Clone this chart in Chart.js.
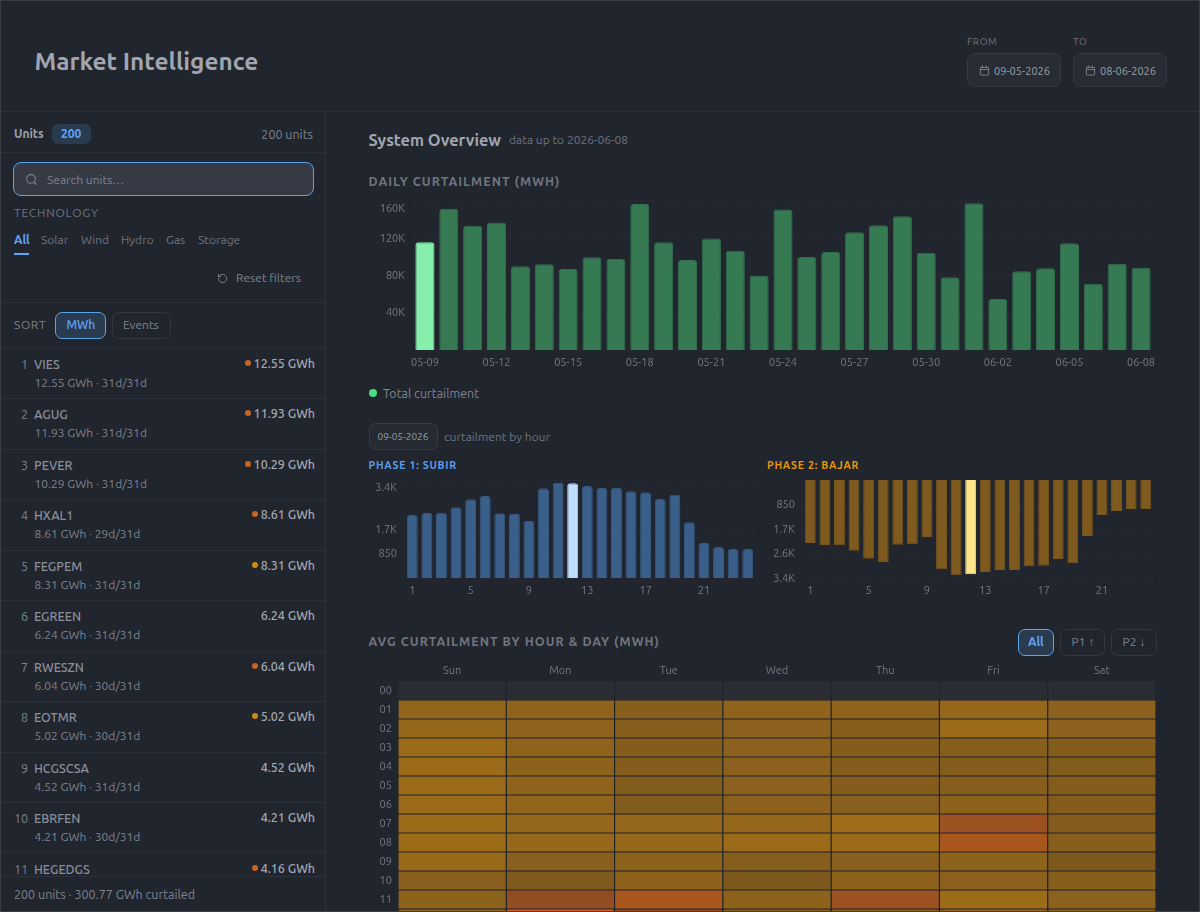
<!DOCTYPE html>
<html><head><meta charset="utf-8">
<script src="https://cdn.jsdelivr.net/npm/chart.js@4"></script>
<style>
*{box-sizing:border-box}
html,body{margin:0;padding:0;background:#21252e;width:1200px;height:912px;overflow:hidden;font-family:Ubuntu,"Noto Sans",sans-serif;color:#9ca3af}
#app{position:absolute;left:0;top:0;width:1200px;height:912px;overflow:hidden;border:1px solid #383c45}
.t{position:absolute;white-space:nowrap;line-height:1;transform:translateY(-50%)}
.r{transform:translate(-100%,-50%)}
.ln{position:absolute;background:#2c303a}
.box{position:absolute;border-radius:7px;border:1px solid #33373f}
canvas{position:absolute}
.wrap{position:absolute;overflow:hidden}
svg{position:absolute}
</style></head><body><div id="app"></div>
<script>
const days=['05-09','05-10','05-11','05-12','05-13','05-14','05-15','05-16','05-17','05-18','05-19','05-20','05-21','05-22','05-23','05-24','05-25','05-26','05-27','05-28','05-29','05-30','05-31','06-01','06-02','06-03','06-04','06-05','06-06','06-07','06-08'];
const dailyMWh=[115600,151800,133500,136800,89900,92000,87000,99500,97700,156800,115600,96700,119600,106700,79800,151000,99900,105300,126400,133900,143600,104500,78000,157500,54800,84500,87700,114600,71200,92700,88400];
const hourLabels=['1','2','3','4','5','6','7','8','9','10','11','12','13','14','15','16','17','18','19','20','21','22','23','24'];
const phase1=[2186,2255,2267,2452,2729,2845,2243,2232,1978,3111,3307,3284,3192,3122,3134,3007,2972,2741,2891,1931,1214,1075,1006,1006];
const phase2=[2186,2255,2267,2452,2729,2845,2243,2232,1978,3100,3307,3272,3192,3122,3122,2995,2972,2741,2891,1942,1214,1075,1006,1006];
const weekDays=['Sun','Mon','Tue','Wed','Thu','Fri','Sat'];
const heatHours=['00','01','02','03','04','05','06','07','08','09','10','11','12'];
const heat00=[0,0,0,0,0,0,0];
const heat01=[2650,2600,2400,2600,2600,2750,2500];
const heat02=[2750,2600,2400,2500,2400,2900,2500];
const heat03=[2900,2600,2350,2500,2350,2400,2350];
const heat04=[2900,2550,2350,2500,2350,2350,2300];
const heat05=[2900,2600,2300,2500,2350,2400,2350];
const heat06=[2900,2650,2300,2500,2450,2550,2350];
const heat07=[2900,2750,2700,2750,2980,3220,2350];
const heat08=[2950,2750,2700,2900,2900,3350,2400];
const heat09=[2850,2450,2550,2400,2450,2550,2200];
const heat10=[2450,2250,2550,2200,2550,2500,2400];
const heat11=[2550,3100,3350,2550,3220,2950,2500];
const heat12=[2600,3700,3100,2500,2600,2700,2600];
const heatRows=[heat00,heat01,heat02,heat03,heat04,heat05,heat06,heat07,heat08,heat09,heat10,heat11,heat12];
const units=[['VIES','12.55','31d','o'],['AGUG','11.93','31d','o'],['PEVER','10.29','31d','o'],['HXAL1','8.61','29d','o'],['FEGPEM','8.31','31d','a'],['EGREEN','6.24','31d',''],['RWESZN','6.04','30d','o'],['EOTMR','5.02','30d','a'],['HCGSCSA','4.52','31d',''],['EBRFEN','4.21','30d',''],['HEGEDGS','4.16','31d','o']];

const app=document.getElementById('app');
function txt(s,x,y,size,color,o={}){const d=document.createElement('div');d.className='t'+(o.right?' r':'');d.textContent=s;
 d.style.cssText=`left:${x-1}px;top:${y-1}px;font-size:${size}px;color:${color};font-weight:${o.w||400};letter-spacing:${o.ls||0}px`;(o.p||app).appendChild(d);return d}
function line(x,y,w,h,p,c){const d=document.createElement('div');d.className='ln';d.style.cssText=`left:${x-1}px;top:${y-1}px;width:${w}px;height:${h}px`+(c?`;background:${c}`:'');(p||app).appendChild(d)}
function box(x,y,w,h,bg,bd,rad){const d=document.createElement('div');d.className='box';d.style.cssText=`left:${x-1}px;top:${y-1}px;width:${w}px;height:${h}px;background:${bg||'transparent'};border-color:${bd||'#33373f'};border-radius:${rad||7}px`;app.appendChild(d)}
function icon(x,y,s,inner,c){const n=document.createElementNS('http://www.w3.org/2000/svg','svg');n.setAttribute('viewBox','0 0 24 24');n.setAttribute('width',s);n.setAttribute('height',s);n.style.cssText=`left:${x-1-s/2}px;top:${y-1-s/2}px`;n.innerHTML=`<g fill="none" stroke="${c}" stroke-width="2" stroke-linecap="round" stroke-linejoin="round">${inner}</g>`;app.appendChild(n)}
const CAL='<rect x="3" y="5" width="18" height="17" rx="2"/><path d="M8 2v4M16 2v4M3 10h18"/>';
const G1='#70757f',G2='#7f848e',G3='#9ca1aa',BL='#60a5fa';

// header
txt('Market Intelligence',34.5,61,24.4,'#a0a5af',{w:700});
line(1,111,1198,1);
txt('FROM',967,41.5,10,G1,{ls:.6});txt('TO',1073,41.5,10,G1,{ls:.6});
box(967,53,94,34,'#282c34','#363a42',8);box(1073,53,94,34,'#282c34','#363a42',8);
icon(984,70.5,11,CAL,G2);icon(1090,70.5,11,CAL,G2);
txt('09-05-2026',994,70.5,11,G3);txt('08-06-2026',1100,70.5,11,G3);
// sidebar
line(325,111,1,801);
txt('Units',14,134,12,G3,{w:700});
box(52,124,39,20,'#2a3b4f','transparent',6);txt('200',61,134,12,BL,{w:700});
txt('200 units',313,134,12.5,G2,{right:1});
line(1,152,324,1);
box(13,162,301,34,'#353a45','#5ba4e6',8);
icon(31,179.5,13,'<circle cx="11" cy="11" r="8"/><path d="M21 21l-4.3-4.3"/>',G2);
txt('Search units…',47,179.5,12,G2);
txt('TECHNOLOGY',14,213,12,G1,{ls:.8});
[['All',14,BL],['Solar',41,G1],['Wind',81,G1],['Hydro',121,G1],['Gas',166,G1],['Storage',198,G1]].forEach(a=>txt(a[0],a[1],239.5,12,a[2],{w:a[0]=='All'?600:400}));
line(14,253,15,2,null,BL);
icon(222,278,11,'<path d="M3 12a9 9 0 1 0 3-6.7L3 8"/><path d="M3 3v5h5"/>',G2);
txt('Reset filters',236,277.5,12,G2);
line(1,302,324,1);
txt('SORT',14,325,12,G2,{ls:.6});
box(55,311.5,51,27,'#2a3b4f','#5ba4e6',7);txt('MWh',66.5,325,12,BL,{w:500});
box(112,311.5,59,27,'transparent','#33373f',7);txt('Events',123,325,12,G2);
line(1,347.5,324,1);
const listW=document.createElement('div');listW.className='wrap';listW.style.cssText='left:0;top:347px;width:324px;height:528px';app.appendChild(listW);
units.forEach((u,i)=>{const y=50.45*i;
 const dy=y;
 txt(String(i+1),28,dy+17,12.5,G2,{right:1,p:listW});
 txt(u[0],34,dy+17,12.5,'#8b8f99',{p:listW,w:500});
 txt(`${u[1]} GWh · ${u[2]}/31d`,34.5,dy+36,12,G2,{p:listW});
 txt(`${u[1]} GWh`,315,dy+16,12.5,'#a3a8b1',{right:1,p:listW,w:500});
 if(u[3]){const d=document.createElement('div');const w=u[1].length>4?247.7:255;d.style.cssText=`position:absolute;left:${w-4}px;top:${dy+12}px;width:6px;height:6px;border-radius:50%;background:${u[3]=='o'?'#c9651f':'#c98a16'}`;listW.appendChild(d)}
 if(i<10)line(1,y+51.4,324,1,listW);
});
line(1,875.5,324,1);
txt('200 units · 300.77 GWh curtailed',14,893.5,12.5,G2);
// main headings
txt('System Overview',368.5,140,16.3,'#a0a5af',{w:700});
txt('data up to 2026-06-08',509,140,12,G1);
txt('DAILY CURTAILMENT (MWH)',368.5,181,12.5,G1,{w:700,ls:1.05});
const dot=document.createElement('div');dot.style.cssText='position:absolute;left:368px;top:388px;width:8px;height:8px;border-radius:50%;background:#4ade80';app.appendChild(dot);
txt('Total curtailment',383,393,12.5,G2);
box(369,423,69,27,'#262a32','#363a42',7);txt('09-05-2026',377.5,437,10,G3);
txt('curtailment by hour',444,437,12,G1);
txt('PHASE 1: SUBIR',368.5,465,10.5,'#5b9ee8',{w:700,ls:.75});
txt('PHASE 2: BAJAR',767,465,10.5,'#e8960f',{w:700,ls:.75});
txt('AVG CURTAILMENT BY HOUR & DAY (MWH)',368.5,641,12.5,G1,{w:700,ls:1.05});
box(1017.5,628.5,36.5,27,'#2a3b4f','#5ba4e6',7);txt('All',1028,642,12,BL,{w:600});
box(1060,628.5,45,27,'transparent','#33373f',7);txt('P1 ↑',1071.5,642,12,G2);
box(1111,628.5,46,27,'transparent','#33373f',7);txt('P2 ↓',1122.5,642,12,G2);

function addCanvas(x,y,w,h){const c=document.createElement('canvas');c.style.cssText=`left:${x-1}px;top:${y-1}px;width:${w}px;height:${h}px`;c.width=w;c.height=h;app.appendChild(c);return c}
Chart.defaults.font.family='Ubuntu,"Noto Sans",sans-serif';
Chart.defaults.animation=false;
Chart.defaults.responsive=false;
Chart.defaults.plugins.legend.display=false;
Chart.defaults.plugins.tooltip.enabled=false;
const kFmt=v=>v>=1000?(Math.round(v/100)/10)+'K':String(v);
const noPad=s=>{s.paddingTop=0;s.paddingBottom=0;s.paddingLeft=0;s.paddingRight=0};
// push the top-most value label down so that it stays inside the plot
const topLabelShift={id:'topLabelShift',beforeDraw(ch,a,o){const s=ch.scales.y;if(!o.shift)return;const it=s.getLabelItems();if(it.__done)return;it.__done=true;
 it.forEach(l=>{if(l.label===o.label)l.options.translation=[l.options.translation[0],l.options.translation[1]+o.shift]})}};
const tickC='#747983';
function barChart(c,labels,data,cols,ticksY,yMax,o){
 return new Chart(c,{type:'bar',plugins:[topLabelShift],data:{labels,datasets:[{data,backgroundColor:cols[0],borderColor:cols[1],borderWidth:1,borderSkipped:o.rev?'bottom':'start',borderRadius:{topLeft:3,topRight:3,bottomLeft:0,bottomRight:0},barPercentage:o.bp,categoryPercentage:1}]},
 options:{layout:{padding:o.pad},plugins:{topLabelShift:{shift:o.shift||0,label:o.shiftLabel}},scales:{
  x:{grid:{display:false,drawTicks:false},border:{display:false},afterFit(s){s.height=o.xh;noPad(s)},ticks:{color:tickC,font:{size:o.fs},padding:o.xp,maxRotation:0,autoSkip:false,callback(v,i){return i%o.every==0?labels[i]:null}}},
  y:{min:0,max:yMax,reverse:!!o.rev,afterFit(s){s.width=o.yw;noPad(s)},afterBuildTicks(s){s.ticks=ticksY.map(v=>({value:v}))},border:{display:false,dash:[2,4]},grid:{color:'rgba(255,255,255,.06)',drawTicks:false},
   ticks:{color:tickC,font:{size:o.fs},padding:o.yp,autoSkip:false,callback:kFmt}}
 }}});
}
const dc=addCanvas(368,195,790,175);
barChart(dc,days,dailyMWh,[dailyMWh.map((v,i)=>i==0?'#86efac':'#357a52'),dailyMWh.map((v,i)=>i==0?'#86efac':'#33714e')],[40000,80000,120000,160000],160000,{pad:{top:6,right:5,left:0,bottom:0},bp:.8,fs:11,xh:20,xp:6,yw:45,yp:8,every:3,shift:7,shiftLabel:'160K'});
const p1c=addCanvas(368,474,392,124);
barChart(p1c,hourLabels,phase1,[phase1.map((v,i)=>i==11?'#bfdbfe':'#3a5f8b'),phase1.map((v,i)=>i==11?'#bfdbfe':'#385a82')],[850,1700,3400],3400,{pad:{top:6,right:5,left:0,bottom:0},bp:.75,fs:11,xh:20,xp:6,yw:37,yp:8,every:4,shift:7,shiftLabel:'3.4K'});
const p2c=addCanvas(767,474,391,124);
barChart(p2c,hourLabels,phase2,[phase2.map((v,i)=>i==11?'#fde68a':'#7f5a1e'),phase2.map((v,i)=>i==11?'#fde68a':'#75541f')],[850,1700,2550,3400],3400,{rev:true,pad:{top:6,right:5,left:0,bottom:0},bp:.75,fs:11,xh:20,xp:6,yw:36,yp:8,every:4});
// heatmap
function heatColor(v){if(!v)return '#2a2e34';
 if(v<3000)return `rgba(245,158,11,${v/5000})`;
 return `rgba(249,115,22,${.52+(v-3100)/625*.6*.5})`}
const hc=addCanvas(368,660,790,268);
new Chart(hc,{type:'bar',data:{labels:weekDays,datasets:heatRows.map((row,h)=>({label:heatHours[h],data:row.map(()=>1),backgroundColor:row.map(v=>heatColor(v)),borderColor:'#21252e',borderWidth:.6,borderRadius:2,borderSkipped:false,inflateAmount:0,barPercentage:1,categoryPercentage:1}))},
 options:{layout:{padding:{right:2}},scales:{
  x:{position:'top',stacked:true,grid:{display:false,drawTicks:false},border:{display:false},afterFit(s){s.height=21;noPad(s)},ticks:{color:tickC,font:{size:11},padding:4}},
  y:{stacked:true,reverse:true,min:0,max:heatHours.length,afterFit(s){s.width=30;noPad(s)},grid:{display:false,drawTicks:false},border:{display:false},afterBuildTicks(s){s.ticks=heatHours.map((l,i)=>({value:i+.5}))},ticks:{color:tickC,font:{size:11},padding:6,autoSkip:false,callback(v){return heatHours[Math.floor(v)]}}}
 }}});
</script></body></html>
